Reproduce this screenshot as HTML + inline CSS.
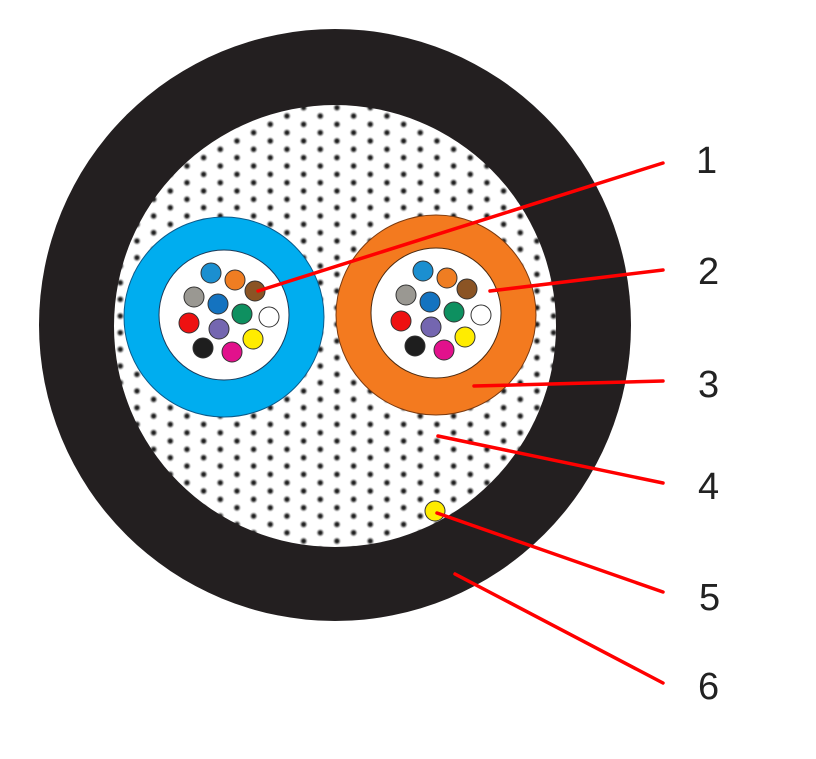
<!DOCTYPE html>
<html><head><style>body{margin:0;background:#fff}svg{display:block}</style></head><body>
<svg width="816" height="759" viewBox="0 0 816 759" xmlns="http://www.w3.org/2000/svg">
<defs>
<radialGradient id="dg"><stop offset="0" stop-color="#111"/><stop offset="0.35" stop-color="#333"/><stop offset="0.7" stop-color="#888" stop-opacity="0.5"/><stop offset="1" stop-color="#fff" stop-opacity="0"/></radialGradient>
<pattern id="dots" width="33.33" height="16.67" patternUnits="userSpaceOnUse" patternTransform="translate(20.3,-0.7)">
<rect width="33.33" height="16.67" fill="#fff"/>
<circle cx="0" cy="0" r="4.6" fill="url(#dg)"/><circle cx="33.33" cy="0" r="4.6" fill="url(#dg)"/>
<circle cx="0" cy="16.67" r="4.6" fill="url(#dg)"/><circle cx="33.33" cy="16.67" r="4.6" fill="url(#dg)"/>
<circle cx="16.67" cy="8.33" r="4.6" fill="url(#dg)"/>
</pattern>
<g id="fib" stroke="#333" stroke-width="1">
<circle cx="211" cy="273" r="10" fill="#1b8fd0"/>
<circle cx="235" cy="280" r="10" fill="#ef7d22"/>
<circle cx="255" cy="291" r="10" fill="#8b5424"/>
<circle cx="194" cy="297" r="10" fill="#9a9892"/>
<circle cx="218" cy="304" r="10" fill="#1473c0"/>
<circle cx="242" cy="314" r="10" fill="#0e9060"/>
<circle cx="269" cy="317" r="10" fill="#fff"/>
<circle cx="189" cy="323" r="10" fill="#ee1111"/>
<circle cx="219" cy="329" r="10" fill="#7466b0"/>
<circle cx="253" cy="339" r="10" fill="#ffec00"/>
<circle cx="203" cy="348" r="10" fill="#1e1e1e"/>
<circle cx="232" cy="352" r="10" fill="#e2118c"/>
</g>
</defs>
<circle cx="335" cy="325" r="296" fill="#231f20"/>
<circle cx="335" cy="326" r="221" fill="url(#dots)"/>
<circle cx="224" cy="317" r="100" fill="#00adef" stroke="#0b5a8a" stroke-width="1"/>
<circle cx="224" cy="315" r="65" fill="#fff" stroke="#1a3a5a" stroke-width="1"/>
<use href="#fib"/>
<circle cx="436" cy="315" r="100" fill="#f37a1f" stroke="#7a3a10" stroke-width="1"/>
<circle cx="436" cy="313" r="65" fill="#fff" stroke="#4a2a10" stroke-width="1"/>
<use href="#fib" transform="translate(212,-2)"/>
<circle cx="435" cy="511" r="10" fill="#ffec00" stroke="#333" stroke-width="1"/>
<g stroke="#f00" stroke-width="3.5" stroke-linecap="round">
<line x1="258" y1="291" x2="663" y2="163"/>
<line x1="490" y1="291" x2="663" y2="270"/>
<line x1="474" y1="386" x2="663" y2="381"/>
<line x1="438" y1="436" x2="663" y2="483"/>
<line x1="437" y1="513" x2="663" y2="592"/>
<line x1="455" y1="574" x2="663" y2="683"/>
</g>
<g font-family="Liberation Sans, sans-serif" font-size="38" fill="#222">
<text x="696" y="173">1</text>
<text x="698" y="284">2</text>
<text x="698" y="397">3</text>
<text x="698" y="499">4</text>
<text x="699" y="610">5</text>
<text x="698" y="699">6</text>
</g>
</svg>
</body></html>
